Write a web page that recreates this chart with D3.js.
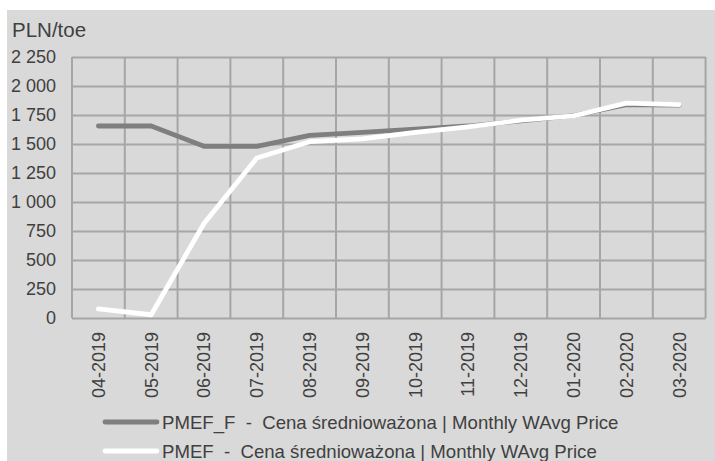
<!DOCTYPE html>
<html>
<head>
<meta charset="utf-8">
<script src="https://cdn.jsdelivr.net/npm/d3@7"></script>
<style>
  body { margin: 0; background: #fff; }
  text { font-family: "Liberation Sans", Arial, sans-serif; fill: #404040; white-space: pre; }
</style>
</head>
<body>
<svg id="chart" width="715" height="461"></svg>
<script>
const months = ['04-2019', '05-2019', '06-2019', '07-2019', '08-2019', '09-2019',
  '10-2019', '11-2019', '12-2019', '01-2020', '02-2020', '03-2020']
const pmefF = [1655, 1655, 1480, 1480, 1575, 1600, 1628, 1655, 1700, 1745, 1840, 1835]
const pmef = [78, 28, 815, 1380, 1520, 1545, 1600, 1648, 1705, 1742, 1852, 1840]
const yTicks = [0, 250, 500, 750, 1000, 1250, 1500, 1750, 2000, 2250]
const seriesNames = ['PMEF_F  -  Cena średnioważona | Monthly WAvg Price',
  'PMEF  -  Cena średnioważona | Monthly WAvg Price']
const seriesColors = ['#7f7f7f', '#ffffff']

const svg = d3.select('#chart')
const plotLeft = 72, plotRight = 705.6, plotTop = 57, plotBottom = 318

// grey panel
svg.append('rect')
  .attr('x', 7).attr('y', 10)
  .attr('width', 708).attr('height', 451)
  .attr('fill', '#d9d9d9')

const x = d3.scaleBand().domain(months).range([plotLeft, plotRight])
const y = d3.scaleLinear().domain([0, 2250]).range([plotBottom, plotTop])

const fmt = v => d3.format(',')(v).replace(/,/g, ' ')

// horizontal gridlines + y labels
const yAxis = svg.append('g')
  .attr('transform', `translate(${plotLeft},0)`)
  .call(d3.axisLeft(y).tickValues(yTicks).tickFormat(fmt)
    .tickSize(-(plotRight - plotLeft)).tickPadding(16))
yAxis.select('.domain').remove()
yAxis.selectAll('line').attr('stroke', '#a6a6a6').attr('stroke-width', 2)
yAxis.selectAll('text').style('font-size', '18px').attr('fill', '#404040')

// vertical gridlines at category boundaries
const bounds = months.map(m => x(m)).concat([plotRight])
svg.append('g').selectAll('line')
  .data(bounds).enter().append('line')
  .attr('x1', d => d).attr('x2', d => d)
  .attr('y1', plotTop).attr('y2', plotBottom)
  .attr('stroke', '#a6a6a6').attr('stroke-width', 2)

// x labels
const xAxis = svg.append('g')
  .attr('transform', `translate(0,${plotBottom})`)
  .call(d3.axisBottom(x).tickSize(0))
xAxis.select('.domain').remove()
xAxis.selectAll('text')
  .style('font-size', '18px')
  .attr('fill', '#404040')
  .attr('transform', 'rotate(-90)')
  .attr('text-anchor', 'end')
  .attr('x', -14)
  .attr('y', 0)
  .attr('dy', '0.35em')

// lines
const line = d3.line()
  .x((d, i) => x(months[i]) + x.bandwidth() / 2)
  .y(d => y(d))

const series = [pmefF, pmef]
svg.append('g').selectAll('path')
  .data(series).enter().append('path')
  .attr('d', d => line(d))
  .attr('fill', 'none')
  .attr('stroke', (d, i) => seriesColors[i])
  .attr('stroke-width', 4.8)
  .attr('stroke-linecap', 'round')
  .attr('stroke-linejoin', 'round')

// title
svg.append('text')
  .attr('x', 12).attr('y', 37)
  .style('font-size', '20.5px')
  .text('PLN/toe')

// legend
const legend = svg.append('g').selectAll('g')
  .data(seriesNames).enter().append('g')
  .attr('transform', (d, i) => `translate(0,${422 + i * 29})`)
legend.append('line')
  .attr('x1', 105).attr('x2', 157)
  .attr('stroke', (d, i) => seriesColors[i])
  .attr('stroke-width', 4.8)
  .attr('stroke-linecap', 'round')
legend.append('text')
  .attr('x', 162).attr('dy', '0.35em')
  .style('font-size', '18.6px')
  .text(d => d)
</script>
</body>
</html>
